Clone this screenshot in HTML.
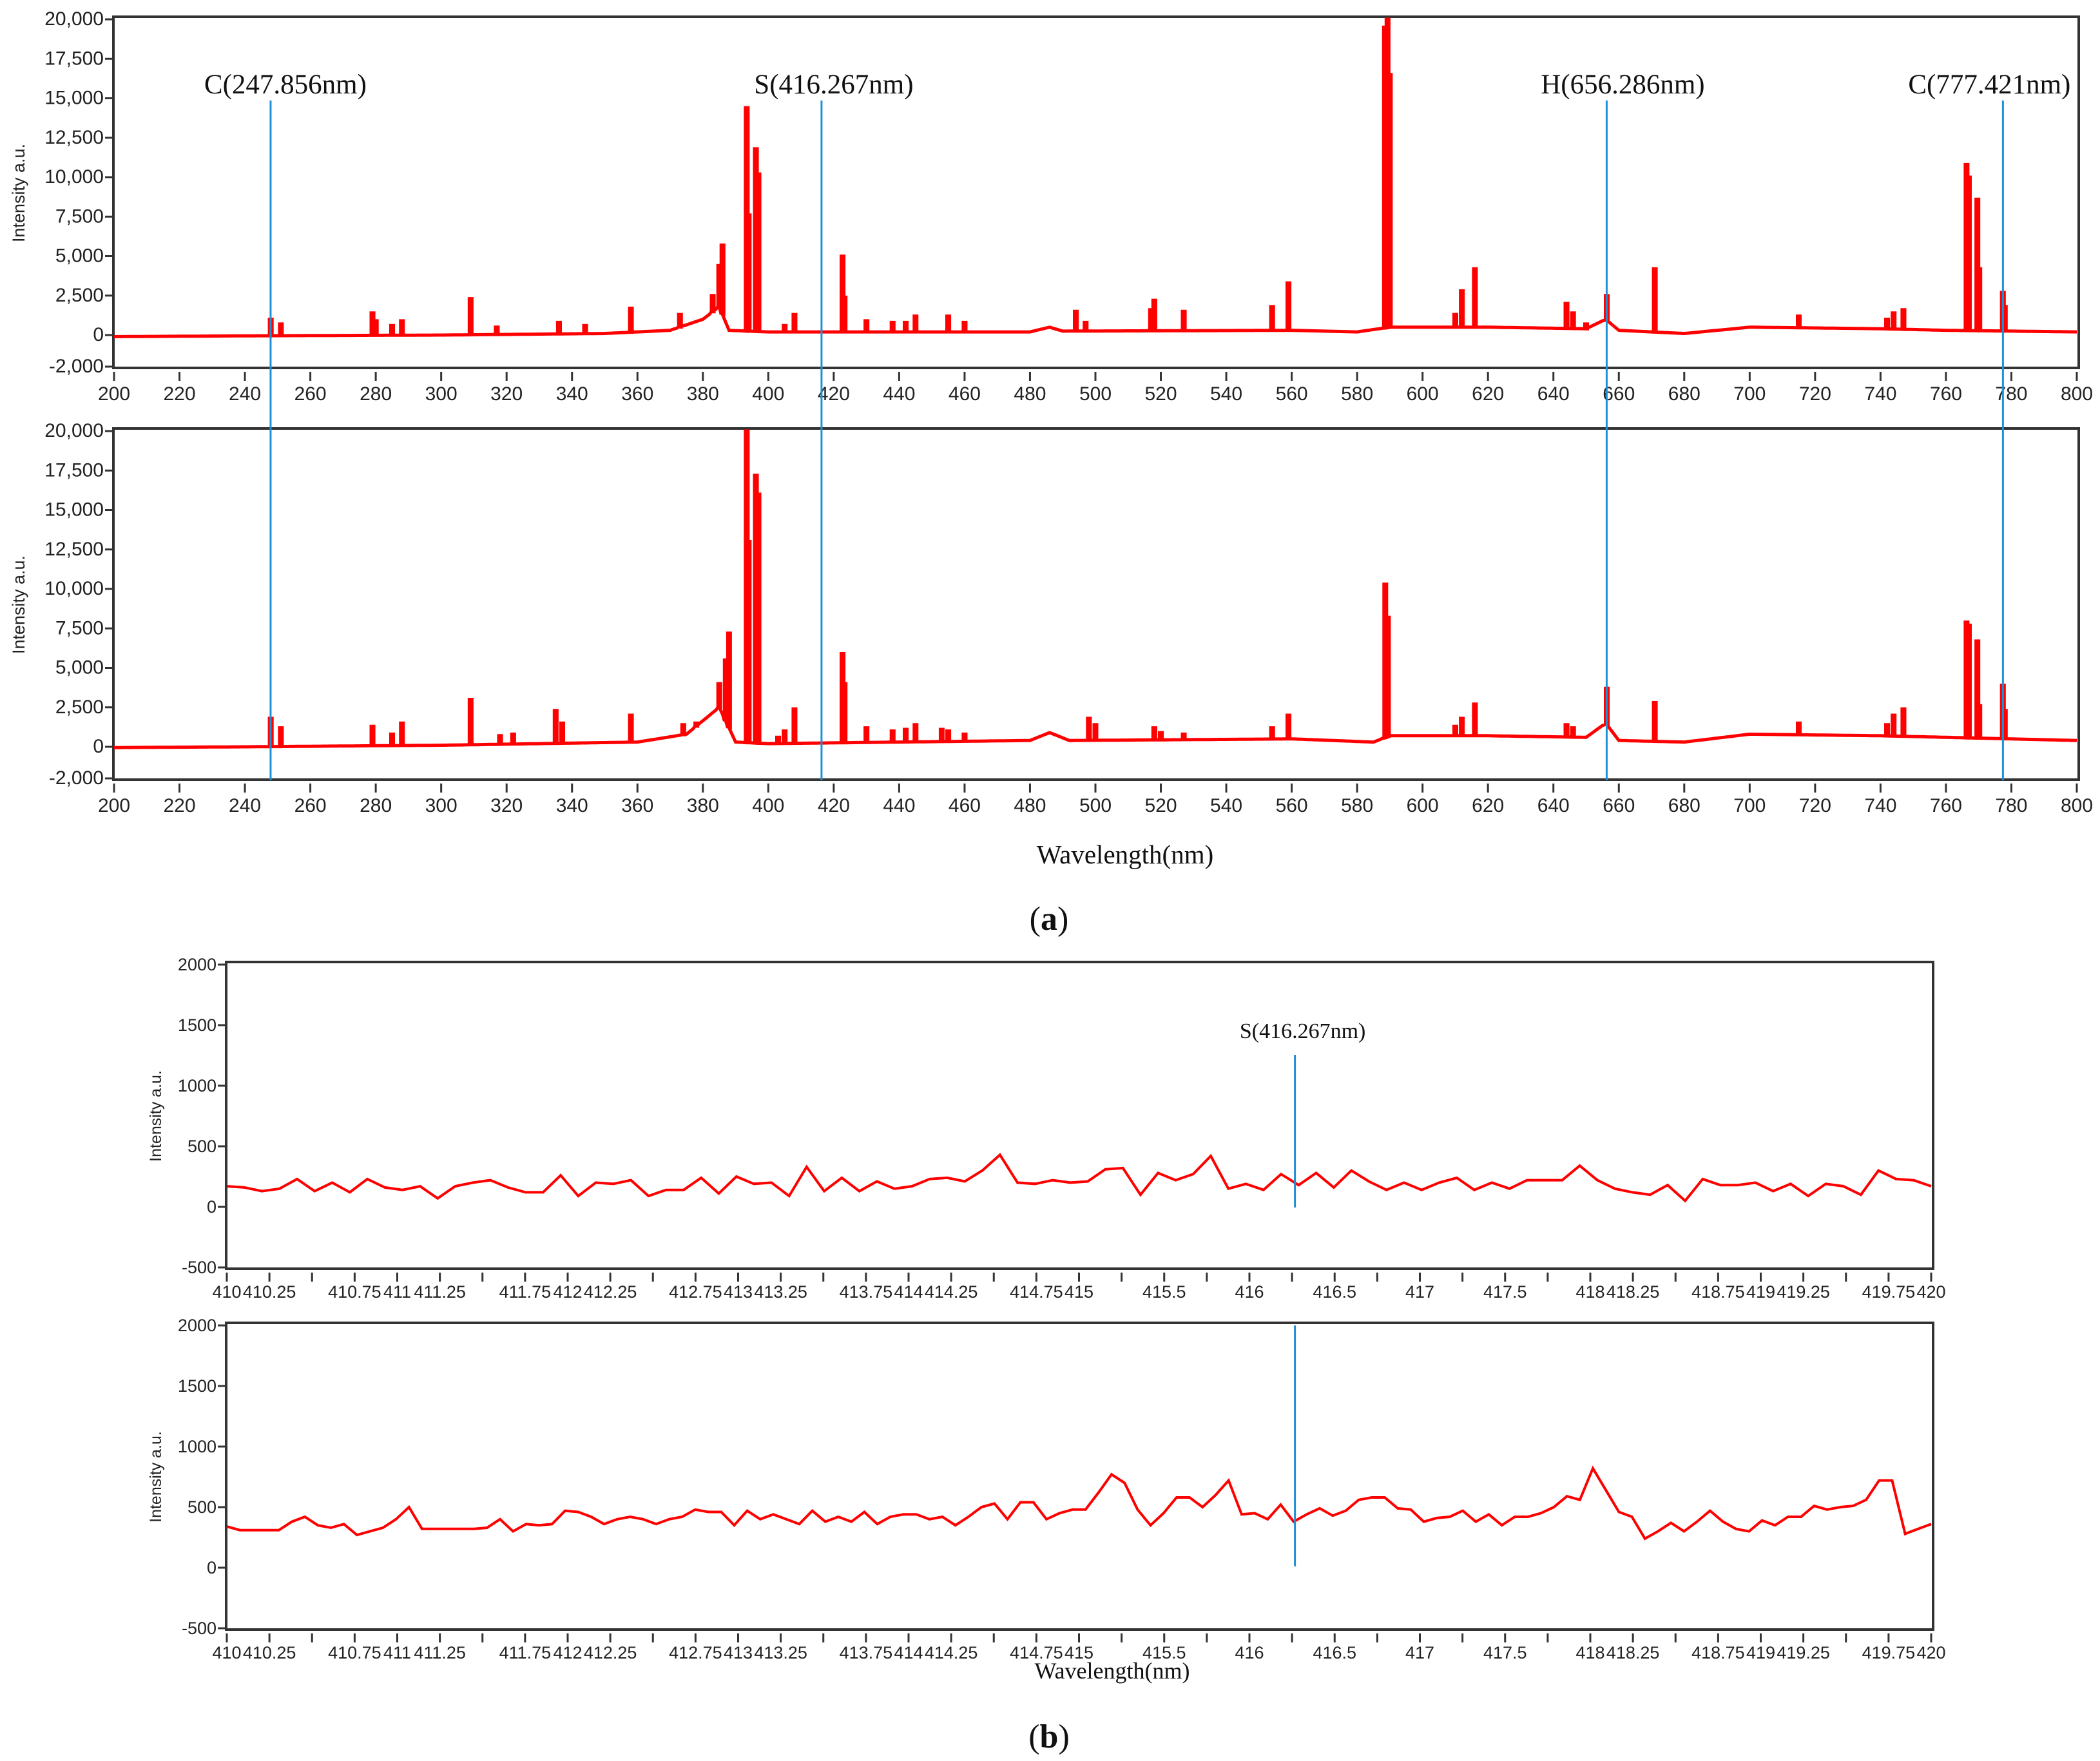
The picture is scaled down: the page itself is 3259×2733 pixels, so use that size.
<!DOCTYPE html>
<html><head><meta charset="utf-8"><style>
html,body{margin:0;padding:0;background:#fff}
svg{display:block}
</style></head><body>
<svg id="fig" width="3259" height="2733" viewBox="0 0 3259 2733" xmlns="http://www.w3.org/2000/svg"></svg>
<script>
// ---- Panel (a) data ----
const aTicksY = [-2000,0,2500,5000,7500,10000,12500,15000,17500,20000];
const aTickLabelsY = ["-2,000","0","2,500","5,000","7,500","10,000","12,500","15,000","17,500","20,000"];
const aTicksX = [200,220,240,260,280,300,320,340,360,380,400,420,440,460,480,500,520,540,560,580,600,620,640,660,680,700,720,740,760,780,800];
const a1BaseW = [200,240,300,350,370,380,385,388,400,480,486,490,560,580,590,620,650,656,660,680,700,740,760,800];
const a1BaseV = [-100,-50,0,100,300,1000,1800,300,200,200,500,250,300,200,500,500,400,1000,300,100,500,400,300,200];
const a1PeakW = [247.9,251,279,280,285,288,309,317,336,344,358,373,383,385,386,393.4,394,396.2,397,405,408,422.7,423.3,430,438,442,445,455,460,494,497,517,518,527,554,559,588.5,589.3,590,610,612,616,644,646,650,656.3,671,715,742,744,747,766.3,767,769.6,770.2,777.4,778];
const a1PeakV = [1000,700,1400,900,600,900,2300,500,800,600,1700,1300,2500,4400,5700,14400,7600,11800,10200,600,1300,5000,2400,900,800,800,1200,1200,800,1500,800,1600,2200,1500,1800,3300,19500,20000,16500,1300,2800,4200,2000,1400,700,2500,4200,1200,1000,1400,1600,10800,10000,8600,4200,2700,1800];
const a2BaseW = [200,240,300,360,375,385,388,390,400,480,486,492,560,585,590,620,650,656,660,680,700,740,800];
const a2BaseV = [-50,0,100,300,800,2500,1200,300,200,400,900,400,500,300,700,700,600,1500,400,300,800,700,400];
const a2PeakW = [247.9,251,279,285,288,309,318,322,335,337,358,374,378,385,387,388,393.4,394,396.2,397,403,405,408,422.7,423.3,430,438,442,445,453,455,460,498,500,518,520,527,554,559,588.6,589.4,610,612,616,644,646,656.3,671,715,742,744,747,766.3,767,769.6,770.2,777.4,778];
const a2PeakV = [1800,1200,1300,800,1500,3000,700,800,2300,1500,2000,1400,1500,4000,5500,7200,20000,13000,17200,16000,600,1000,2400,5900,4000,1200,1000,1100,1400,1100,1000,800,1800,1400,1200,900,800,1200,2000,10300,8200,1300,1800,2700,1400,1200,3700,2800,1500,1400,2000,2400,7900,7700,6700,2600,3900,2300];
const aMarkerW = [247.856,416.267,656.286,777.421];
const aMarkerLabels = ["C(247.856nm)","S(416.267nm)","H(656.286nm)","C(777.421nm)"];
// ---- Panel (b) data ----
const bTicksY = [-500,0,500,1000,1500,2000];
const bTickLabelsY = ["-500","0","500","1000","1500","2000"];
const bTicksX = [410,410.25,410.5,410.75,411,411.25,411.5,411.75,412,412.25,412.5,412.75,413,413.25,413.5,413.75,414,414.25,414.5,414.75,415,415.25,415.5,415.75,416,416.25,416.5,416.75,417,417.25,417.5,417.75,418,418.25,418.5,418.75,419,419.25,419.5,419.75,420];
const bTickLabelsX = ["410","410.25","","410.75","411","411.25","","411.75","412","412.25","","412.75","413","413.25","","413.75","414","414.25","","414.75","415","","415.5","","416","","416.5","","417","","417.5","","418","418.25","","418.75","419","419.25","","419.75","420"];
const b1Values = [170,160,130,150,230,130,200,120,230,160,140,170,70,170,200,220,160,120,120,260,90,200,190,220,90,140,140,240,110,250,190,200,90,330,130,240,130,210,150,170,230,240,210,300,430,200,190,220,200,210,310,320,100,280,220,270,420,150,190,140,270,180,280,160,300,210,140,200,140,200,240,140,200,150,220,220,220,340,220,150,120,100,180,50,230,180,180,200,130,190,90,190,170,100,300,230,220,170];
const b2Values = [340,310,310,310,310,380,420,350,330,360,270,300,330,400,500,320,320,320,320,320,330,400,300,360,350,360,470,460,420,360,400,420,400,360,400,420,480,460,460,350,470,400,440,400,360,470,380,420,380,460,360,420,440,440,400,420,350,420,500,530,400,540,540,400,450,480,480,620,770,700,480,350,450,580,580,500,600,720,440,450,400,520,380,440,490,430,470,560,580,580,490,480,380,410,420,470,380,440,350,420,420,450,500,590,560,820,640,460,420,240,300,370,300,380,470,380,320,300,390,350,420,420,510,480,500,510,560,720,720,280,320,360];
const bMarkerW = 416.267;

const NS = "http://www.w3.org/2000/svg";
const svg = document.getElementById('fig');
function mk(tag, attrs, parent){
  const e = document.createElementNS(NS, tag);
  for (const k in attrs) e.setAttribute(k, attrs[k]);
  (parent||svg).appendChild(e);
  return e;
}
const SANS = '"Liberation Sans Narrow","Liberation Sans",sans-serif';
const SERIF = '"Liberation Serif",serif';

function axisFns(p){
  return {
    sx: w => p.x0 + (w - p.xmin) / (p.xmax - p.xmin) * (p.x1 - p.x0),
    sy: v => p.yBot - (v - p.ymin) / (p.ymax - p.ymin) * (p.yBot - p.yTop)
  };
}
function drawFrame(p, name, ticksX, labelsX, ticksY, labelsY, fs){
  const {sx, sy} = axisFns(p);
  const g = mk('g', {});
  
  
  const box = mk('rect', {x:p.x0-1, y:p.yTop-4, width:p.x1-p.x0+4, height:p.yBot-p.yTop+6, fill:'none', stroke:'#333', 'stroke-width':4}, g);
  
  
  ticksY.forEach((v,i)=>{
    const y = sy(v);
    mk('line',{x1:p.x0-14,x2:p.x0-2,y1:y,y2:y,stroke:'#333','stroke-width':3},g);
    const t = mk('text',{x:p.x0-16,y:y+9,'text-anchor':'end','font-family':SANS,'font-size':fs,fill:'#222'},g);
    
    
    t.textContent = labelsY[i];
  });
  ticksX.forEach((w,i)=>{
    const x = sx(w);
    mk('line',{x1:x,x2:x,y1:p.yBot+8,y2:p.yBot+22,stroke:'#333','stroke-width':3},g);
    if (labelsX[i]) {
      const t = mk('text',{x:x,y:p.yBot+p.lblOff,'text-anchor':'middle','font-family':SANS,'font-size':fs,fill:'#222'},g);
      
      
      t.textContent = labelsX[i];
    }
  });
  const yl = mk('text',{x:0,y:0,transform:`translate(${p.ylx},${(p.yTop+p.yBot)/2}) rotate(-90)`,'text-anchor':'middle','font-family':'"Liberation Sans",sans-serif','font-size':p.ylfs,fill:'#222'},g);
  
  
  yl.textContent = 'Intensity a.u.';
  return g;
}
function interp(W,V,w){
  if (w<=W[0]) return V[0];
  for (let i=1;i<W.length;i++){ if (w<=W[i]) { const t=(w-W[i-1])/(W[i]-W[i-1]); return V[i-1]+t*(V[i]-V[i-1]); } }
  return V[V.length-1];
}
function spectrumPath(p, baseW, baseV, peakW, peakV){
  const {sx, sy} = axisFns(p);
  const pts = [];
  const order = peakW.map((w,i)=>i).sort((a,b)=>peakW[a]-peakW[b]);
  let pi = 0;
  for (let w=p.xmin; w<=p.xmax+1e-9; w+=1){
    while (pi<order.length && peakW[order[pi]] < w+1){
      const k = order[pi], pw = peakW[k], b = interp(baseW, baseV, pw);
      pts.push([sx(pw-0.4), sy(b)],[sx(pw-0.4), sy(peakV[k])],[sx(pw+0.4), sy(peakV[k])],[sx(pw+0.4), sy(b)]);
      pi++;
    }
    pts.push([sx(w), sy(interp(baseW, baseV, w))]);
  }
  return 'M'+pts.map(q=>q[0].toFixed(1)+','+q[1].toFixed(1)).join('L');
}

// ---- Panel (a) ----
const A1 = {x0:177,x1:3223,xmin:200,xmax:800,yTop:30,yBot:569,ymin:-2000,ymax:20000,lblOff:52,ylx:38,ylfs:27};
const A2 = Object.assign({}, A1, {yTop:669,yBot:1208});
drawFrame(A1,'spectrum-a1-axes',aTicksX,aTicksX.map(String),aTicksY,aTickLabelsY,30);
drawFrame(A2,'spectrum-a2-axes',aTicksX,aTicksX.map(String),aTicksY,aTickLabelsY,30);
const s1 = mk('path',{d:spectrumPath(A1,a1BaseW,a1BaseV,a1PeakW,a1PeakV),fill:'none',stroke:'#ff0000','stroke-width':5,'stroke-linejoin':'miter'});


const s2 = mk('path',{d:spectrumPath(A2,a2BaseW,a2BaseV,a2PeakW,a2PeakV),fill:'none',stroke:'#ff0000','stroke-width':5});


const fa = axisFns(A1);
const labelShift = [23,19,25,-21];
aMarkerW.forEach((w,i)=>{
  const x = fa.sx(w);
  const l = mk('line',{x1:x,x2:x,y1:156,y2:1211,stroke:'#1e90d6','stroke-width':3});
  
  
  const t = mk('text',{x:x+labelShift[i],y:145,'text-anchor':'middle','font-family':SERIF,'font-size':43,fill:'#111'});
  
  
  t.textContent = aMarkerLabels[i];
});
let t = mk('text',{x:1746,y:1340,'text-anchor':'middle','font-family':SERIF,'font-size':41,fill:'#111'});


t.textContent = 'Wavelength(nm)';
t = mk('text',{x:1628,y:1443,'text-anchor':'middle','font-family':SERIF,'font-size':52,fill:'#111'});


t.innerHTML = '(<tspan font-weight="bold">a</tspan>)';

// ---- Panel (b) ----
const B1 = {x0:352,x1:2997,xmin:410,xmax:420,yTop:1497,yBot:1967,ymin:-500,ymax:2000,lblOff:47,ylx:250,ylfs:25};
const B2 = Object.assign({}, B1, {yTop:2057,yBot:2527});
drawFrame(B1,'zoom-b1-axes',bTicksX,bTickLabelsX,bTicksY,bTickLabelsY,27);
drawFrame(B2,'zoom-b2-axes',bTicksX,bTickLabelsX,bTicksY,bTickLabelsY,27);
function linePath(p, vals){
  const {sx, sy} = axisFns(p);
  return 'M'+vals.map((v,i)=>sx(p.xmin+i*(p.xmax-p.xmin)/(vals.length-1)).toFixed(1)+','+sy(v).toFixed(1)).join('L');
}
const l1 = mk('path',{d:linePath(B1,b1Values),fill:'none',stroke:'#ff0000','stroke-width':4});


const l2 = mk('path',{d:linePath(B2,b2Values),fill:'none',stroke:'#ff0000','stroke-width':4});


const fb = axisFns(B1);
const bx = fb.sx(bMarkerW);
let m = mk('line',{x1:bx,x2:bx,y1:1637,y2:1874,stroke:'#1e90d6','stroke-width':3});


m = mk('line',{x1:bx,x2:bx,y1:2057,y2:2431,stroke:'#1e90d6','stroke-width':3});


t = mk('text',{x:bx+12,y:1611,'text-anchor':'middle','font-family':SERIF,'font-size':34,fill:'#111'});


t.textContent = 'S(416.267nm)';
t = mk('text',{x:1726,y:2605,'text-anchor':'middle','font-family':SERIF,'font-size':36,fill:'#111'});


t.textContent = 'Wavelength(nm)';
t = mk('text',{x:1628,y:2712,'text-anchor':'middle','font-family':SERIF,'font-size':52,fill:'#111'});


t.innerHTML = '(<tspan font-weight="bold">b</tspan>)';
</script>
</body></html>
